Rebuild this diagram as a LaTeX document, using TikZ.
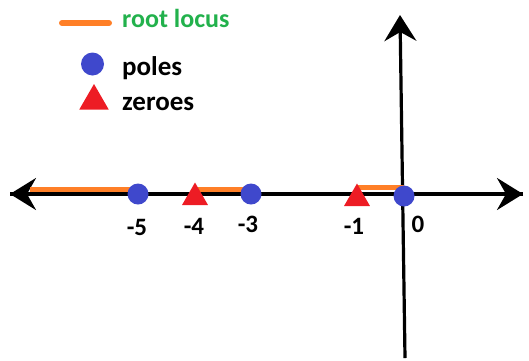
\documentclass[tikz,border=0pt]{standalone}
\usepackage{fontspec}
\setmainfont{Carlito}
\usepackage{tikz}
\usetikzlibrary{arrows.meta,shapes.geometric,backgrounds}
\definecolor{loc}{HTML}{FF7F27}
\definecolor{txtg}{HTML}{22B14C}
\definecolor{pol}{HTML}{3F48CC}
\definecolor{zer}{HTML}{ED1C24}

\begin{document}
\begin{tikzpicture}[x=1pt,y=-1pt,  % 1 unit = 1 px of the sketch
  tip/.style={-{Stealth[length=26pt,width=32pt,inset=9pt]}},
  axis/.style={line width=3.2pt,black},
  locus/.style={loc,line width=5pt},
  pole/.style={circle,fill=pol,inner sep=0pt,minimum size=21pt},
  zero/.style={regular polygon,regular polygon sides=3,fill=zer,inner sep=0pt,minimum size=30pt},
  lbl/.style={font=\bfseries\fontsize{25}{28}\selectfont,anchor=center}]
  \useasboundingbox (0,0) rectangle (529,360);
  % ---- poles and zeroes
  \node[pole] (p5) at (138,194) {};
  \node[pole] (p3) at (251,194) {};
  \node[pole] (p0) at (404,196) {};
  \node[zero] (z4) at (195,197.5) {};
  \node[zero] (z1) at (357,198.5) {};
  % ---- axes and root locus, under the markers
  \coordinate (xl) at (10,194);
  \coordinate (xr) at (523,194);
  \coordinate (yt) at (400,15);
  \coordinate (yb) at (405,358);
  \coordinate (lend) at (30,189.5);
  \coordinate (lhi) at (0,187.5);
  \begin{scope}[on background layer]
    \draw[axis,tip] (xl) -- (xr);
    \draw[axis,tip] (xr) -- (xl);
    \draw[axis,tip] (yb) -- (yt);
    \draw[locus] (lend) -- (p5.center |- lend);
    \draw[locus] (z4.center |- lend) -- (p3.center |- lend);
    \draw[locus] (z1.center |- lhi) -- (p0.center |- lhi);
  \end{scope}
  % ---- tick labels
  \node[lbl] (l5) at (137,227) {-5};
  \node[lbl] (l4) at (194,226) {-4};
  \node[lbl] (l3) at (248,224) {-3};
  \node[lbl] (l1) at (354,226) {-1};
  \node[lbl] (l0) at (418,224) {0};
  % ---- legend
  \coordinate (ga) at (62,23);
  \coordinate (gb) at (109,23);
  \draw[locus,line width=6pt,line cap=round] (ga) -- (gb);
  \node[font=\bfseries\fontsize{26}{28}\selectfont,text=txtg,anchor=base west,inner sep=0pt] (tloc) at (122,27) {root locus};
  \node[pole,minimum size=23pt] (gp) at (92.5,64) {};
  \node[font=\bfseries\fontsize{27}{30}\selectfont,anchor=base west,inner sep=0pt] (tpol) at (122,75) {poles};
  \node[zero,minimum size=34pt] (gz) at (94,101) {};
  \node[font=\bfseries\fontsize{27}{30}\selectfont,anchor=base west,inner sep=0pt] (tzer) at (122,110) {zeroes};
\end{tikzpicture}
\end{document}
